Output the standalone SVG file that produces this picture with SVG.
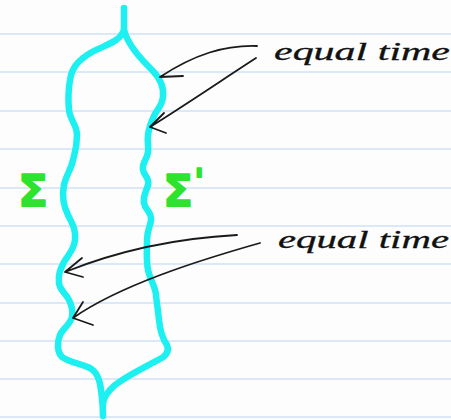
<svg xmlns="http://www.w3.org/2000/svg" width="451" height="420" viewBox="0 0 451 420">
<style>
.rule{stroke:#cfe0f6;stroke-width:1.5}
.sheet{fill:none;stroke:#1cf0f0;stroke-width:6.5;stroke-linecap:round;stroke-linejoin:round}
.sig{font-family:"DejaVu Sans",sans-serif;font-weight:bold;fill:#2ee32e;stroke:#2ee32e;stroke-width:1.5;stroke-linejoin:round}
.hand{font-family:"Liberation Serif",serif;font-style:italic;font-size:25px;fill:#111;stroke:#111;stroke-width:0.3}
.arr{fill:none;stroke:#1a1a1a;stroke-width:1.8;stroke-linecap:round;stroke-linejoin:round}
</style>
<rect width="451" height="420" fill="#fdfdfd"/>
<g id="paper">
<line class="rule" x1="0" y1="34" x2="451" y2="34"/>
<line class="rule" x1="0" y1="72" x2="451" y2="72"/>
<line class="rule" x1="0" y1="111" x2="451" y2="111"/>
<line class="rule" x1="0" y1="149" x2="451" y2="149"/>
<line class="rule" x1="0" y1="188" x2="451" y2="188"/>
<line class="rule" x1="0" y1="226" x2="451" y2="226"/>
<line class="rule" x1="0" y1="264" x2="451" y2="264"/>
<line class="rule" x1="0" y1="303" x2="451" y2="303"/>
<line class="rule" x1="0" y1="341" x2="451" y2="341"/>
<line class="rule" x1="0" y1="379" x2="451" y2="379"/>
<line class="rule" x1="0" y1="417" x2="451" y2="417"/>
</g>
<g id="sigma">
<path class="sheet" d="M124,8 L124,30 C120,42 105,45 92,52 C80,59 72,66 70,80 C68,92 68,100 69,110 C70,120 77,125 77,135 C77,147 75,152 73,160 C71,170 66,175 64,185 C62,195 63,205 68,215 C73,225 76,230 75,240 C74,250 68,255 64,262 C60,270 58,275 59,283 C60,291 66,293 69,300 C72,307 73,310 72,317 C70,325 63,328 60,335 C57,342 57,352 62,357 C68,362 80,363 90,368 C97,372 100,380 101,390 C102,398 103,403 103,416"/>
<text class="sig" x="18" y="207" font-size="44">Σ</text>
</g>
<g id="sigma-prime">
<path class="sheet" d="M124,30 C128,45 140,58 152,70 C160,78 164,88 163,97 C162,106 158,108 155,114 C152,120 149,126 148,135 C147,143 149,146 148,152 C147,160 142,162 143,170 C144,176 150,178 148,185 C146,192 143,195 144,203 C145,210 152,212 151,220 C150,228 147,230 147,240 C147,252 146,260 148,270 C150,280 155,285 156,295 C157,305 158,310 159,320 C160,330 162,338 167,345 C170,352 165,357 158,360 C145,367 128,375 115,385 C108,391 103,398 103,405"/>
<text class="sig" x="163" y="207" font-size="44">Σ<tspan dx="1" dy="-14" font-size="34">'</tspan></text>
</g>
<g id="label-top">
<text class="hand" x="274" y="60" textLength="176" lengthAdjust="spacingAndGlyphs">equal time</text>
</g>
<g id="label-bottom">
<text class="hand" x="278" y="248" textLength="171" lengthAdjust="spacingAndGlyphs">equal time</text>
</g>
<g id="connectors">
<path class="arr" d="M257,46 C225,45 195,54 160,77 M160,77 L183,76"/>
<path class="arr" d="M256,58 C225,78 190,102 150,127 M150,127 L164,113 M150,127 L166,133"/>
<path class="arr" d="M237,235 C180,238 120,250 65,272 M65,272 L82,258 M65,272 L83,277"/>
<path class="arr" d="M260,243 C200,260 120,285 73,318 M73,318 L83,302 M73,318 L93,325"/>
</g>
</svg>
